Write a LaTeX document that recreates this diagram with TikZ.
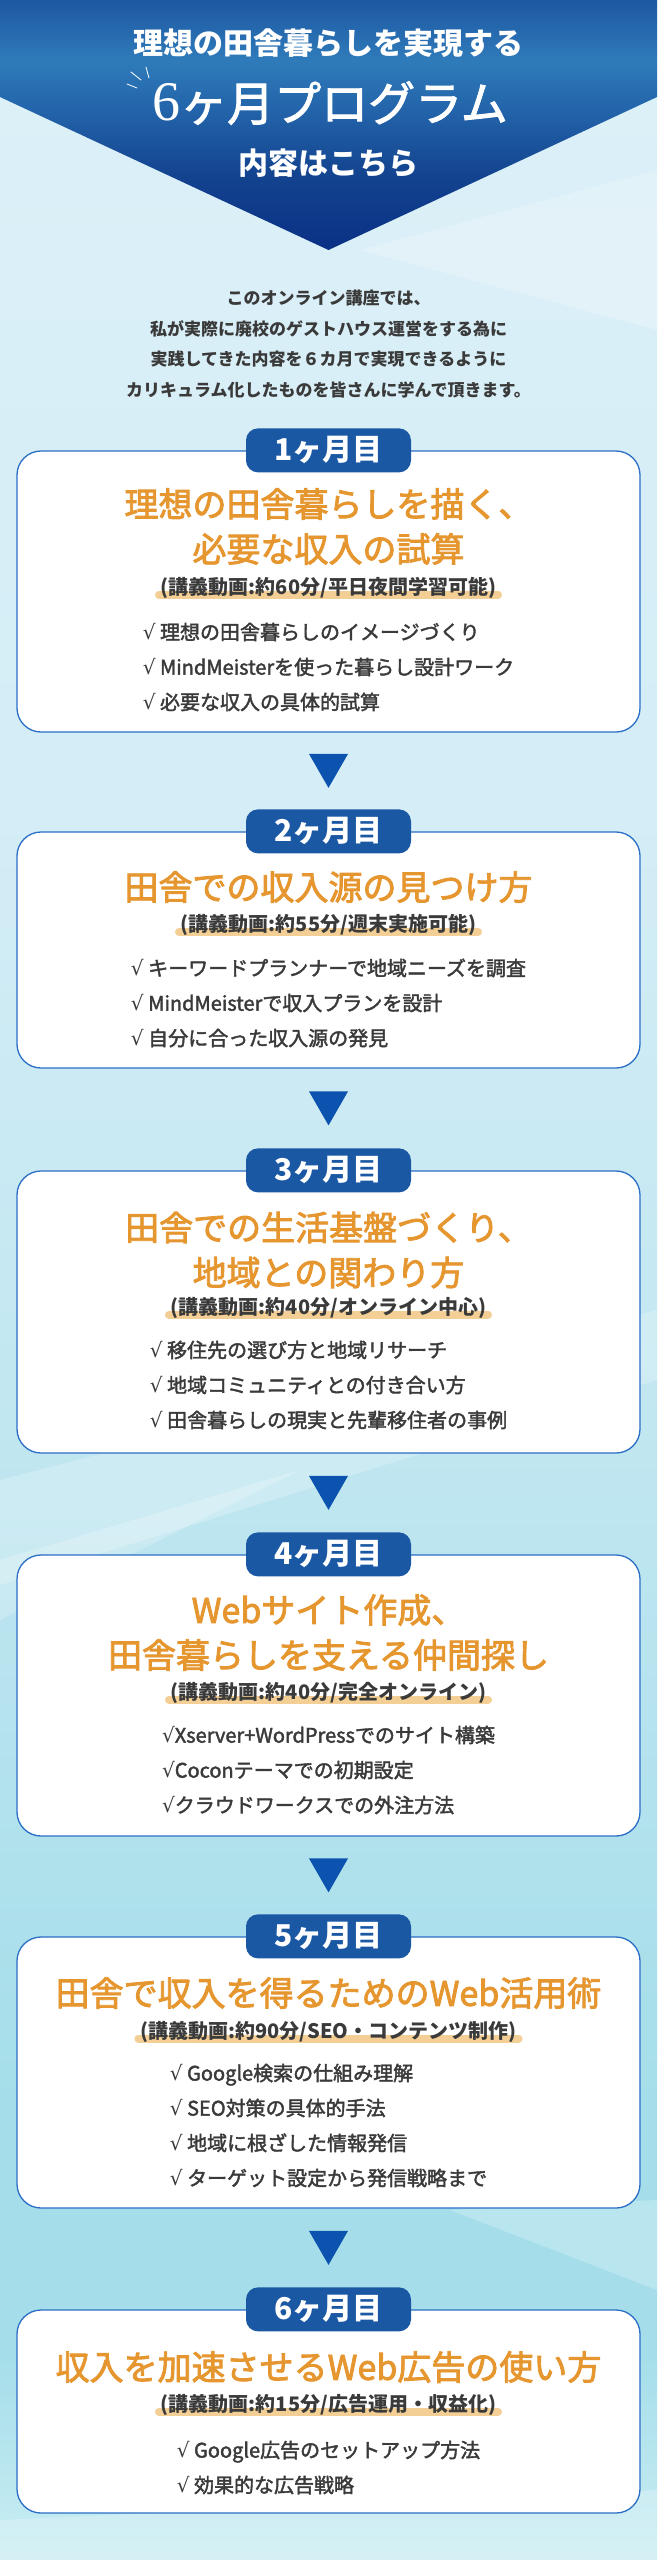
\documentclass[tikz,border=0pt]{standalone}
\usepackage{fontspec}
\setmainfont{Noto Sans CJK JP}
\newfontfamily\jpmed[FakeBold=2.5]{Noto Sans CJK JP}
\newfontfamily\jpsemi[FakeBold=2]{Noto Sans CJK JP}
\newfontfamily\chkfont{DejaVu Sans}
\newfontfamily\numfont{Liberation Serif}
\usetikzlibrary{calc}

\definecolor{hdrtop}{HTML}{1D57A2}
\definecolor{hdrlight}{HTML}{2F7BBA}
\definecolor{hdrmid}{HTML}{2364AA}
\definecolor{hdrdark}{HTML}{13438F}
\definecolor{hdrtip}{HTML}{0A3085}
\definecolor{bgtop}{HTML}{DDF0F8}
\definecolor{bgupper}{HTML}{D4EDF6}
\definecolor{bgmid}{HTML}{BFE6F0}
\definecolor{bglow}{HTML}{A5DEEA}
\definecolor{bgend}{HTML}{CAEDF3}
\definecolor{boxblue}{HTML}{2A6EC6}
\definecolor{badgeblue}{HTML}{1B58A4}
\definecolor{arrowblue}{HTML}{0B53AE}
\definecolor{ttlorange}{HTML}{E6962F}
\definecolor{hlorange}{HTML}{F3CF95}
\definecolor{txtgray}{HTML}{3A3A3A}

\pgfdeclareverticalshading{bgshade}{100bp}{color(0bp)=(bgend); color(25bp)=(bgend);
  color(29bp)=(bglow); color(34bp)=(bglow); color(46bp)=(bgmid); color(59bp)=(bgupper);
  color(75bp)=(bgtop); color(100bp)=(bgtop)}
\pgfdeclareverticalshading{hdrshade}{100bp}{color(0bp)=(hdrtip); color(25bp)=(hdrtip);
  color(40bp)=(hdrdark); color(53bp)=(hdrmid); color(63bp)=(hdrlight);
  color(75bp)=(hdrtop); color(100bp)=(hdrtop)}

\tikzset{
  streak/.style={fill=white, opacity=0.22},
  hdr/.style={text=white, font=\fontsize{30}{30}\selectfont\bfseries},
  intro/.style={text=txtgray, align=center, font=\fontsize{17}{30.5}\selectfont\bfseries},
  monthbox/.style={draw=boxblue, line width=1.3pt, fill=white, rounded corners=24pt,
    minimum width=623pt},
  badge/.style={fill=badgeblue, rounded corners=12pt, minimum width=165pt,
    minimum height=44pt, inner sep=0pt, text=white, font=\fontsize{30}{30}\selectfont\bfseries},
  ttl/.style={text=ttlorange, align=center, font=\fontsize{34}{45}\selectfont\jpmed},
  sub/.style={fill=white, text=txtgray, inner xsep=6pt, inner ysep=4pt, text height=16pt,
    text depth=4pt, font=\fontsize{20}{20}\selectfont\bfseries,
    path picture={\draw[hl] ([shift={(4pt,7.5pt)}]path picture bounding box.south west)
      -- ([shift={(-4pt,7.5pt)}]path picture bounding box.south east);}},
  hl/.style={draw=hlorange, line width=8pt, line cap=round},
  items/.style={text=txtgray, align=left, font=\fontsize{20}{35}\selectfont\jpsemi},
  tri/.style={fill=arrowblue}
}
\newcommand{\chk}{{\chkfont √}}

\begin{document}
\begin{tikzpicture}[x=1pt,y=-1pt]
\useasboundingbox (0,0) rectangle (657,2560);
\shade[shading=bgshade] (0,0) rectangle (657,2560);
\fill[streak] (360,250) -- (657,170) -- (657,330) -- cycle;
\fill[streak] (0,1480) -- (657,1310) -- (657,1380) -- (0,1585) -- cycle;
\fill[streak] (0,1560) -- (300,1470) -- (0,1620) -- cycle;
\fill[streak] (450,2210) -- (657,2200) -- (657,2290) -- cycle;
\fill[streak] (0,2520) -- (657,2490) -- (657,2560) -- (0,2560) -- cycle;

\shade[shading=hdrshade] (0,0) -- (657,0) -- (657,97) -- (328.5,250) -- (0,97) -- cycle;
\node[hdr] (hd1) at (328.5,43) {理想の田舎暮らしを実現する};
\node[hdr, font=\fontsize{47}{47}\selectfont\jpsemi] (hd2) at (330,103)
  {{\numfont\fontsize{56}{56}\selectfont 6}ヶ月プログラム};
\node[hdr] (hd3) at (328.5,163) {内容はこちら};
\draw[white, line width=0.8pt, line cap=round] (131,72) -- (141,80) (146,67) -- (149,78)
  (127,84) -- (137,88);

\node[intro] (intro) at (328.5,344) {このオンライン講座では、\\
  私が実際に廃校のゲストハウス運営をする為に\\
  実践してきた内容を６カ月で実現できるように\\
  カリキュラム化したものを皆さんに学んで頂きます。};

\node[monthbox, minimum height=281pt] (box1) at (328.5,591.5) {};
\node[badge] (badge1) at (box1.north) {1ヶ月目};
\node[ttl] (ttl1) at (328.5,526.5) {理想の田舎暮らしを描く、\\必要な収入の試算};
\node[sub] (sub1) at (328.5,588) {(講義動画:約60分/平日夜間学習可能)};
\node[items] (list1) at (328.5,667) {\chk{} 理想の田舎暮らしのイメージづくり\\
  \chk{} MindMeisterを使った暮らし設計ワーク\\\chk{} 必要な収入の具体的試算};

\node[monthbox, minimum height=236pt] (box2) at (328.5,950) {};
\node[badge] (badge2) at (box2.north) {2ヶ月目};
\node[ttl] (ttl2) at (328.5,887) {田舎での収入源の見つけ方};
\node[sub] (sub2) at (328.5,925) {(講義動画:約55分/週末実施可能)};
\node[items] (list2) at (328.5,1003) {\chk{} キーワードプランナーで地域ニーズを調査\\
  \chk{} MindMeisterで収入プランを設計\\\chk{} 自分に合った収入源の発見};

\node[monthbox, minimum height=282pt] (box3) at (328.5,1312) {};
\node[badge] (badge3) at (box3.north) {3ヶ月目};
\node[ttl] (ttl3) at (328.5,1250) {田舎での生活基盤づくり、\\地域との関わり方};
\node[sub] (sub3) at (328.5,1308) {(講義動画:約40分/オンライン中心)};
\node[items] (list3) at (328.5,1385) {\chk{} 移住先の選び方と地域リサーチ\\
  \chk{} 地域コミュニティとの付き合い方\\\chk{} 田舎暮らしの現実と先輩移住者の事例};

\node[monthbox, minimum height=281pt] (box4) at (328.5,1695.5) {};
\node[badge] (badge4) at (box4.north) {4ヶ月目};
\node[ttl] (ttl4) at (328.5,1632.5) {Webサイト作成、\\田舎暮らしを支える仲間探し};
\node[sub] (sub4) at (328.5,1693) {(講義動画:約40分/完全オンライン)};
\node[items] (list4) at (328.5,1770) {\chk{}Xserver+WordPressでのサイト構築\\
  \chk{}Coconテーマでの初期設定\\\chk{}クラウドワークスでの外注方法};

\node[monthbox, minimum height=271pt] (box5) at (328.5,2072.5) {};
\node[badge] (badge5) at (box5.north) {5ヶ月目};
\node[ttl] (ttl5) at (328.5,1993) {田舎で収入を得るためのWeb活用術};
\node[sub] (sub5) at (328.5,2032) {(講義動画:約90分/SEO・コンテンツ制作)};
\node[items] (list5) at (328.5,2125.5) {\chk{} Google検索の仕組み理解\\
  \chk{} SEO対策の具体的手法\\\chk{} 地域に根ざした情報発信\\\chk{} ターゲット設定から発信戦略まで};

\node[monthbox, minimum height=203pt] (box6) at (328.5,2411.5) {};
\node[badge] (badge6) at (box6.north) {6ヶ月目};
\node[ttl] (ttl6) at (328.5,2367) {収入を加速させるWeb広告の使い方};
\node[sub] (sub6) at (328.5,2405) {(講義動画:約15分/広告運用・収益化)};
\node[items] (list6) at (328.5,2467.5) {\chk{} Google広告のセットアップ方法\\
  \chk{} 効果的な広告戦略};

\foreach \a/\b in {1/2,2/3,3/4,4/5,5/6}{
  \path (box\a.south) -- (badge\b.north) coordinate[pos=0.5] (mid\a);
  \fill[tri] ([shift={(-19.5pt,17pt)}]mid\a) -- ([shift={(19.5pt,17pt)}]mid\a)
    -- ([yshift=-17pt]mid\a) -- cycle;
}
\end{tikzpicture}
\end{document}
